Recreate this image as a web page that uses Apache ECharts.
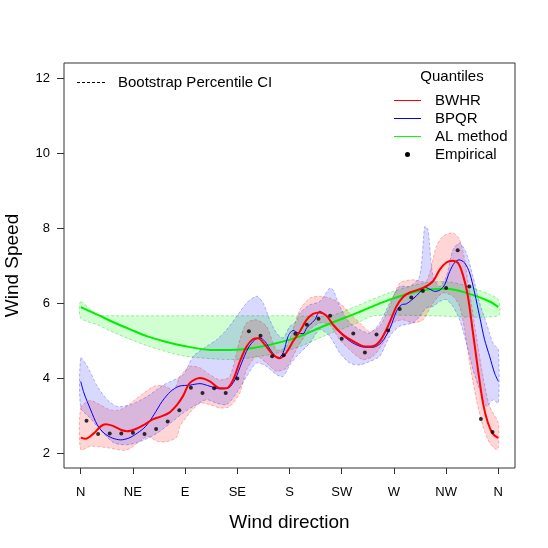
<!DOCTYPE html>
<html>
<head>
<meta charset="utf-8">
<script src="https://cdn.jsdelivr.net/npm/echarts@6/dist/echarts.min.js"></script>
<style>
  html, body { margin: 0; padding: 0; background: #fff; }
  #chart { width: 548px; height: 548px; }
</style>
</head>
<body>
<div id="chart"></div>
<script>
// wind direction ticks
var dirTicks = [0, 45, 90, 135, 180, 225, 270, 315, 360];
var dirLabels = ['N', 'NE', 'E', 'SE', 'S', 'SW', 'W', 'NW', 'N'];
var speedTicks = [2, 4, 6, 8, 10, 12];

// empirical quantiles (the one near 305 deg is hidden under the lines in the picture)
var empAngle = [5, 15, 25, 35, 45, 55, 65, 75, 85, 95, 105, 115, 125, 135, 145, 155, 165, 175,
  185, 195, 205, 215, 225, 235, 245, 255, 265, 275, 285, 295, 315, 325, 335, 345, 355];
var empSpeed = [2.86, 2.51, 2.52, 2.52, 2.54, 2.51, 2.64, 2.84, 3.14, 3.74, 3.60, 3.73, 3.60, 3.99, 5.25, 5.13, 4.58, 4.61,
  5.18, 5.42, 5.58, 5.66, 5.05, 5.19, 4.68, 5.16, 5.27, 5.84, 6.15, 6.32, 6.40, 7.41, 6.44, 2.91, 2.56];

// BWHR quantile curve
var bwhr = [[0, 2.41], [4.3, 2.38], [11.5, 2.53], [17.2, 2.71], [21.5, 2.77], [27.2, 2.73], [34.5, 2.62],
  [40.1, 2.58], [47.4, 2.64], [54.5, 2.75], [61.7, 2.89], [68.9, 2.97], [76.1, 3.07], [83.2, 3.29],
  [88.4, 3.53], [94.1, 3.87], [102.8, 4.00], [111.4, 3.91], [120, 3.73], [125.8, 3.73], [131.4, 3.95],
  [137.2, 4.44], [143, 4.84], [148.7, 5.04], [153, 5.06], [158.7, 4.89], [165.9, 4.62], [171.7, 4.53],
  [177.4, 4.68], [183.1, 4.98], [188.9, 5.24], [194.7, 5.55], [200.3, 5.71], [206.1, 5.75], [211.9, 5.66],
  [217.6, 5.42], [226.2, 5.15], [234.8, 4.98], [244.9, 4.84], [250.6, 4.84], [257.8, 4.98], [264.9, 5.38],
  [272.2, 5.91], [277.9, 6.16], [283.6, 6.28], [295.1, 6.40], [303.7, 6.58], [309.5, 6.89], [315.2, 7.08],
  [320.4, 7.13], [325.2, 7.07], [329.5, 6.75], [333.8, 6.18], [338.2, 5.20], [342.5, 4.22], [346.8, 3.33],
  [351.1, 2.80], [355.4, 2.51], [360, 2.40]];

// BPQR quantile curve
var bpqr = [[0, 3.91], [2.8, 3.60], [8.6, 3.15], [14.3, 2.75], [20.1, 2.53], [27.2, 2.40], [34.5, 2.35],
  [41.6, 2.40], [48.8, 2.53], [56, 2.71], [63.1, 3.02], [70.3, 3.38], [77.5, 3.64], [84.7, 3.78],
  [94.1, 3.81], [102.8, 3.85], [111.4, 3.78], [120, 3.71], [127.1, 3.73], [132.9, 3.95], [138.7, 4.40],
  [144.4, 4.80], [150.1, 5.02], [154.4, 5.07], [158.7, 4.98], [164.5, 4.71], [170.2, 4.53], [174.5, 4.67],
  [178.8, 5.11], [183.1, 5.27], [187.4, 5.20], [191.7, 5.18], [194.7, 5.33], [197.5, 5.42], [201.8, 5.55],
  [206.1, 5.78], [209, 5.73], [213.3, 5.60], [217.6, 5.42], [226.2, 5.13], [234.8, 4.93], [244.9, 4.82],
  [252, 4.82], [259.3, 4.95], [266.4, 5.31], [272.2, 5.78], [276.5, 5.95], [280.8, 5.98], [286.5, 6.11],
  [292.2, 6.28], [296.6, 6.42], [300.9, 6.37], [305.2, 6.31], [309.5, 6.34], [313.8, 6.49], [318.1, 6.84],
  [322.4, 7.08], [326.1, 7.15], [331, 7.07], [335.3, 6.80], [339.6, 6.27], [343.9, 5.64], [348.2, 5.02],
  [352.5, 4.58], [356.8, 4.13], [360, 3.91]];

// AL method quantile curve
var alq = [[0, 5.89], [14.3, 5.69], [28.7, 5.48], [43.1, 5.29], [57.4, 5.11], [71.7, 4.98], [88.4, 4.86],
  [111.4, 4.75], [128.6, 4.75], [148.7, 4.80], [168.8, 4.93], [188.9, 5.11], [209, 5.38], [237.7, 5.73],
  [266.4, 6.09], [295.1, 6.34], [315.2, 6.38], [332.5, 6.27], [352.5, 6.04], [360, 5.89]];

// bootstrap percentile bands
var bwhrUp = [[0, 3.20], [8, 3.40], [16.6, 3.29], [25.2, 3.15], [33.9, 3.15], [43.1, 3.33], [54.5, 3.60],
  [63.1, 3.78], [71.7, 3.79], [80.4, 3.69], [85.5, 4.04], [94.1, 4.31], [102.8, 4.27], [111.4, 4.09],
  [120, 3.95], [128.6, 4.04], [137.2, 5.02], [143, 5.47], [151.6, 5.55], [160.2, 5.38], [168.8, 4.75],
  [177.4, 4.84], [188.9, 5.82], [197.5, 6.13], [206.1, 6.18], [214.7, 6.13], [223.3, 6.00], [231.9, 5.73],
  [240.6, 5.47], [249.2, 5.24], [257.8, 5.38], [266.4, 5.91], [275, 6.53], [286.5, 6.62], [298, 6.58],
  [306.6, 7.51], [312.3, 7.78], [320.9, 7.87], [326.7, 7.69], [331, 7.15], [335.3, 6.27], [341.1, 5.11],
  [346.8, 4.04], [352.5, 3.24], [360, 2.80]];
var bwhrLo = [[0, 2.09], [8.6, 2.18], [22.7, 2.14], [37.3, 2.07], [43.1, 2.13], [57.4, 2.44], [66, 2.31],
  [74.3, 2.30], [82.9, 2.43], [85.5, 2.71], [94.1, 3.07], [102.8, 3.33], [111.4, 3.29], [120, 3.20],
  [128.6, 3.24], [137.2, 3.60], [143, 4.22], [151.6, 4.58], [160.2, 4.40], [168.8, 4.18], [177.4, 4.27],
  [187.4, 4.84], [197.5, 5.29], [206.1, 5.47], [214.7, 5.42], [223.3, 5.02], [234.8, 4.67], [243.4, 4.49],
  [252, 4.58], [260.6, 4.93], [269.2, 5.47], [277.9, 5.55], [286.5, 5.47], [295.1, 5.55], [303.7, 6.00],
  [312.3, 6.27], [320.9, 6.18], [326.7, 5.91], [331, 5.29], [335.3, 4.40], [341.1, 3.42], [346.8, 2.71],
  [352.5, 2.27], [358.3, 2.09], [360, 2.14]];

var bpqrUp = [[0, 4.53], [5.7, 4.31], [14.3, 3.78], [22.9, 3.42], [31.5, 3.24], [43.1, 3.29], [57.4, 3.51],
  [71.7, 3.82], [88.4, 4.09], [97, 4.58], [108.5, 4.84], [117.1, 5.02], [125.8, 5.29], [134.4, 5.64],
  [143, 6.00], [151.6, 6.18], [157.3, 6.00], [163, 5.55], [168.8, 5.20], [174.5, 5.07], [180.3, 5.38],
  [186, 5.51], [188.9, 5.73], [197.5, 5.95], [206.1, 6.04], [214.7, 6.40], [217.6, 6.35], [223.3, 5.91],
  [231.9, 5.47], [240.6, 5.29], [249.2, 5.20], [257.8, 5.47], [266.4, 6.00], [275, 6.44], [283.6, 6.44],
  [292.2, 6.71], [296.6, 8.04], [299.4, 7.95], [303.7, 6.71], [309.5, 6.44], [315.2, 6.71], [320.9, 7.42],
  [326.7, 7.60], [332.5, 7.33], [338.2, 6.71], [343.9, 6.00], [349.7, 5.47], [355.4, 4.93], [360, 4.75]];
var bpqrLo = [[0, 3.21], [8, 2.94], [16.6, 2.62], [28.7, 2.27], [40.1, 2.22], [51.7, 2.31], [66, 2.53],
  [77.5, 2.80], [88.4, 3.07], [97, 3.24], [108.5, 3.42], [117.1, 3.33], [125.8, 3.29], [134.4, 3.60],
  [143, 4.04], [151.6, 4.40], [160.2, 4.31], [168.8, 4.09], [174.5, 4.04], [180.3, 4.35], [187.4, 4.62],
  [197.5, 4.93], [206.1, 5.29], [214.7, 5.11], [223.3, 4.67], [231.9, 4.40], [240.6, 4.35], [249.2, 4.44],
  [257.8, 4.58], [266.4, 5.11], [275, 5.38], [286.5, 5.47], [292.2, 5.64], [297.9, 5.87], [303.7, 5.91],
  [309.5, 6.04], [315.2, 6.09], [320.9, 5.91], [326.7, 5.55], [332.5, 4.93], [338.2, 4.22], [343.9, 3.69],
  [349.7, 3.24], [355.4, 3.42], [360, 3.33]];

var alUp = [[0, 6.03], [14.3, 5.69], [30, 5.66], [100, 5.66], [180, 5.66], [215, 5.66], [237.7, 5.92],
  [266.4, 6.28], [295.1, 6.53], [315.2, 6.57], [332.5, 6.46], [352.5, 6.23], [360, 6.09]];
var alLo = [[0, 5.60], [14.3, 5.42], [28.7, 5.21], [57.4, 4.86], [88.4, 4.59], [128.6, 4.49], [148.7, 4.55],
  [168.8, 4.66], [188.9, 4.84], [209, 5.11], [237.7, 5.46], [253, 5.66], [300, 5.66], [360, 5.66]];

function band(upper, lower, fill, stroke) {
  return {
    type: 'custom',
    silent: true,
    clip: true,
    z: 1,
    data: [[0, 0]],
    renderItem: function (params, api) {
      var pts = upper.map(function (p) { return api.coord(p); });
      var back = lower.slice().reverse().map(function (p) { return api.coord(p); });
      return {
        type: 'polygon',
        shape: { points: pts.concat(back), smooth: 0.25 },
        style: { fill: fill, stroke: stroke, lineWidth: 1, lineDash: [3, 2] }
      };
    }
  };
}

function curve(name, data, color, width) {
  return {
    name: name,
    type: 'line',
    data: data,
    smooth: 0.3,
    showSymbol: false,
    silent: true,
    z: 3,
    lineStyle: { color: color, width: width }
  };
}

var font = 'Liberation Sans, Arial, sans-serif';
var chart = echarts.init(document.getElementById('chart'));

chart.setOption({
  animation: false,
  backgroundColor: '#fff',
  grid: {
    left: 64, right: 33, top: 63, bottom: 80,
    containLabel: false, outerBoundsMode: 'none',
    show: true, borderColor: '#333', borderWidth: 1, backgroundColor: 'transparent'
  },
  xAxis: {
    type: 'value', min: -14.4, max: 374.4,
    name: 'Wind direction', nameLocation: 'middle', nameGap: 45,
    nameTextStyle: { fontFamily: font, fontSize: 19, color: '#000' },
    axisLine: { show: false, onZero: false },
    splitLine: { show: false },
    axisTick: { show: true, inside: false, length: 6, customValues: dirTicks, lineStyle: { color: '#333' } },
    axisLabel: {
      customValues: dirTicks, margin: 18, fontFamily: font, fontSize: 13, color: '#000',
      formatter: function (v) { return dirLabels[dirTicks.indexOf(Math.round(v))]; }
    }
  },
  yAxis: {
    type: 'value', min: 1.6, max: 12.4,
    name: 'Wind Speed', nameLocation: 'middle', nameGap: 42,
    nameTextStyle: { fontFamily: font, fontSize: 19, color: '#000' },
    axisLine: { show: false, onZero: false },
    splitLine: { show: false },
    axisTick: { show: true, inside: false, length: 7, customValues: speedTicks, lineStyle: { color: '#333' } },
    axisLabel: { customValues: speedTicks, margin: 14, fontFamily: font, fontSize: 13, color: '#000' }
  },
  graphic: [
    { type: 'line', shape: { x1: 77, y1: 82.5, x2: 105, y2: 82.5 }, style: { stroke: '#000', lineWidth: 1, lineDash: [3, 2] } },
    { type: 'text', x: 118, y: 82.5, style: { text: 'Bootstrap Percentile CI', font: '15px ' + font, fill: '#000', verticalAlign: 'middle' } },
    { type: 'text', x: 452, y: 76.5, style: { text: 'Quantiles', font: '15px ' + font, fill: '#000', align: 'center', verticalAlign: 'middle' } },
    { type: 'line', shape: { x1: 394, y1: 100.5, x2: 421, y2: 100.5 }, style: { stroke: '#ff0000', lineWidth: 1 } },
    { type: 'text', x: 435, y: 100.5, style: { text: 'BWHR', font: '15px ' + font, fill: '#000', verticalAlign: 'middle' } },
    { type: 'line', shape: { x1: 394, y1: 118.5, x2: 421, y2: 118.5 }, style: { stroke: '#0000ff', lineWidth: 1 } },
    { type: 'text', x: 435, y: 118.5, style: { text: 'BPQR', font: '15px ' + font, fill: '#000', verticalAlign: 'middle' } },
    { type: 'line', shape: { x1: 394, y1: 136.5, x2: 421, y2: 136.5 }, style: { stroke: '#00ff00', lineWidth: 1 } },
    { type: 'text', x: 435, y: 136.5, style: { text: 'AL method', font: '15px ' + font, fill: '#000', verticalAlign: 'middle' } },
    { type: 'circle', shape: { cx: 407.5, cy: 154.5, r: 2.5 }, style: { fill: '#000' } },
    { type: 'text', x: 435, y: 154.5, style: { text: 'Empirical', font: '15px ' + font, fill: '#000', verticalAlign: 'middle' } }
  ],
  series: [
    band(alUp, alLo, 'rgba(0,255,0,0.18)', 'rgba(0,200,0,0.35)'),
    band(bwhrUp, bwhrLo, 'rgba(255,0,0,0.16)', 'rgba(255,0,0,0.28)'),
    band(bpqrUp, bpqrLo, 'rgba(0,0,255,0.15)', 'rgba(0,0,255,0.28)'),
    curve('AL method', alq, '#00ee00', 2),
    curve('BPQR', bpqr, '#0000ff', 1),
    curve('BWHR', bwhr, '#ff0000', 2),
    {
      name: 'Empirical',
      type: 'scatter',
      data: empAngle.map(function (a, i) { return [a, empSpeed[i]]; }),
      symbol: 'circle',
      symbolSize: 4,
      itemStyle: { color: '#000' },
      silent: true,
      z: 5
    }
  ]
});
</script>
</body>
</html>
